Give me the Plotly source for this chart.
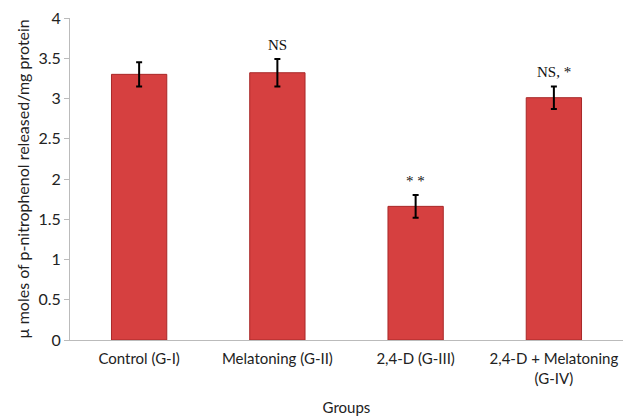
import plotly.graph_objects as go

categories = ["Control (G-I)", "Melatoning (G-II)", "2,4-D (G-III)", "2,4-D + Melatoning<br>(G-IV)"]
values = [3.30, 3.32, 1.66, 3.01]
errors = [0.15, 0.17, 0.14, 0.14]
labels = ["", "NS", "* *", "NS, *"]
y_ticks = [0, 0.5, 1, 1.5, 2, 2.5, 3, 3.5, 4]
y_tick_text = ["0", "0.5", "1", "1.5", "2", "2.5", "3", "3.5", "4"]

fig = go.Figure()
fig.add_trace(go.Bar(
    x=categories, y=values,
    marker=dict(color="#d64040", line=dict(color="#a82828", width=1)),
    error_y=dict(type="data", array=errors, color="black", thickness=2, width=3),
    width=0.4,
))

for c, v, e, t in zip(categories, values, errors, labels):
    if t:
        fig.add_annotation(x=c, y=v + e, text=t, showarrow=False, yshift=14,
                           font=dict(family="Liberation Serif", size=15, color="#111"))

fig.update_layout(
    width=633, height=409,
    margin=dict(l=62, r=18, t=10, b=77),
    paper_bgcolor="white", plot_bgcolor="white",
    showlegend=False,
    font=dict(family="Lato", size=15, color="#222"),
    xaxis=dict(showline=True, linecolor="#bbbbbb", linewidth=1, ticks="",
               ticklabelstandoff=5, automargin=False,
               title=dict(text="Groups", standoff=16, font=dict(size=15)),
               tickfont=dict(size=15)),
    yaxis=dict(range=[0, 4], tickvals=y_ticks, ticktext=y_tick_text,
               showline=True, linecolor="#bbbbbb", linewidth=1,
               ticks="outside", ticklen=5, tickcolor="#bbbbbb",
               ticklabeloverflow="allow",
               showgrid=False, zeroline=False, automargin=False,
               title=dict(text="\u00b5 moles of p-nitrophenol released/mg protein", standoff=4,
                          font=dict(size=16)),
               tickfont=dict(size=16)),
)

fig.write_html("out.html")
